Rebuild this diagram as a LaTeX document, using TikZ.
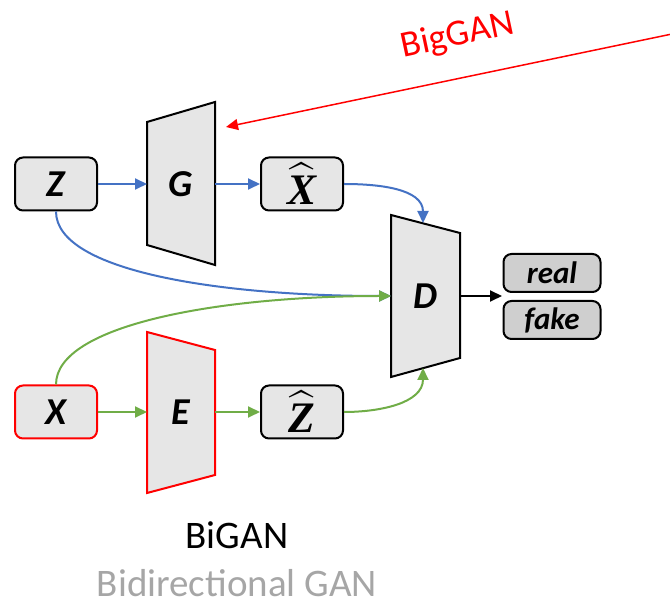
\documentclass[tikz,border=0pt]{standalone}
\usepackage{amsmath,amssymb}
\usepackage{graphicx}
\usepackage{fontspec}
\setmainfont{Carlito}
\newfontfamily\hatfont{Liberation Serif}
\usetikzlibrary{arrows.meta, positioning}

\definecolor{ganblue}{HTML}{4472C4}
\definecolor{gangreen}{HTML}{70AD47}
\definecolor{boxgray}{HTML}{E6E6E6}
\definecolor{outgray}{HTML}{CFCFCF}
\definecolor{subgray}{HTML}{A6A6A6}

\newcommand{\hatvar}[1]{\scalebox{1.75}{\fontsize{24.88}{26}\selectfont$\widehat{\text{\hatfont\bfseries\itshape #1}}$}}

\tikzset{
  box/.style={draw, line width=2pt, rounded corners=8pt, fill=boxgray,
    minimum width=82pt, minimum height=53pt, inner sep=0pt,
    font=\fontsize{38}{40}\selectfont\bfseries\itshape},
  outbox/.style={box, fill=outgray, minimum width=97pt, minimum height=38pt,
    font=\fontsize{31}{33}\selectfont\bfseries\itshape},
  trapbox/.style={line width=2pt, fill=boxgray, line join=miter},
  link/.style={line width=2pt, -{Triangle[length=12pt,width=11pt]}},
}

\begin{document}
\begin{tikzpicture}[x=1pt,y=-1pt]
\useasboundingbox (0,0) rectangle (670,601);

% inputs and outputs
\node[box] (Z) at (56,184) {Z};
\node[box] (Xh) at (302,184) {\hatvar{X}};
\node[box, draw=red] (X) at (56,412) {X};
\node[box] (Zh) at (302,412) {\hatvar{Z}};
\node[outbox] (real) at (552,273) {real};
\node[outbox] (fake) at (552,320) {fake};

% generator, encoder, discriminator
\draw[trapbox] (147,122) -- (215,102) -- (215,265) -- (147,245) -- cycle;
\node[font=\fontsize{38}{40}\selectfont\bfseries\itshape] (G) at (181,184) {G};
\draw[trapbox, draw=red] (147,332) -- (215,350) -- (215,475) -- (147,493) -- cycle;
\node[font=\fontsize{38}{40}\selectfont\bfseries\itshape] (E) at (181,412) {E};
\draw[trapbox] (391,215) -- (460,233) -- (460,358) -- (391,377) -- cycle;
\node[font=\fontsize{38}{40}\selectfont\bfseries\itshape] (D) at (425,296) {D};

\coordinate (Gin) at (147,184);
\coordinate (Gout) at (215,184);
\coordinate (Gtop) at (226,127);
\coordinate (Ein) at (147,412);
\coordinate (Eout) at (215,412);
\coordinate (Din) at (391,296);
\coordinate (Dout) at (460,296);
\coordinate (Dtop) at (423,223);
\coordinate (Dbot) at (423,368);
\coordinate (Dres) at (502,296);
\coordinate (bigsrc) at (672,34);

% blue path
\draw[link, ganblue] (Z.east) -- (Gin);
\draw[link, ganblue] (Gout) -- (Xh.west);
\draw[link, ganblue] (Xh.east) to[out=0, in=90] (Dtop);
\draw[link, ganblue] (Z.south) to[out=-90, in=180, out distance=60pt, in distance=170pt] (Din);

% green path
\draw[link, gangreen] (X.east) -- (Ein);
\draw[link, gangreen] (Eout) -- (Zh.west);
\draw[link, gangreen] (Zh.east) to[out=0, in=-90] (Dbot);
\draw[link, gangreen] (X.north) to[out=90, in=180, out distance=60pt, in distance=170pt] (Din);

\draw[link] (Dout) -- (Dres);

% BigGAN
\draw[red, line width=1.5pt, -{Triangle[length=12pt,width=11pt]}] (bigsrc) -- (Gtop);
\node[red, rotate=12, font=\fontsize{37}{39}\selectfont] (big) at (458,36) {BigGAN};

\node[inner sep=0pt, font=\fontsize{39}{41}\selectfont] (bigan) at (237,535) {BiGAN};
\node[inner sep=0pt, subgray, font=\fontsize{39}{41}\selectfont] (bidir) at (237,583) {Bidirectional GAN};
\end{tikzpicture}
\end{document}
